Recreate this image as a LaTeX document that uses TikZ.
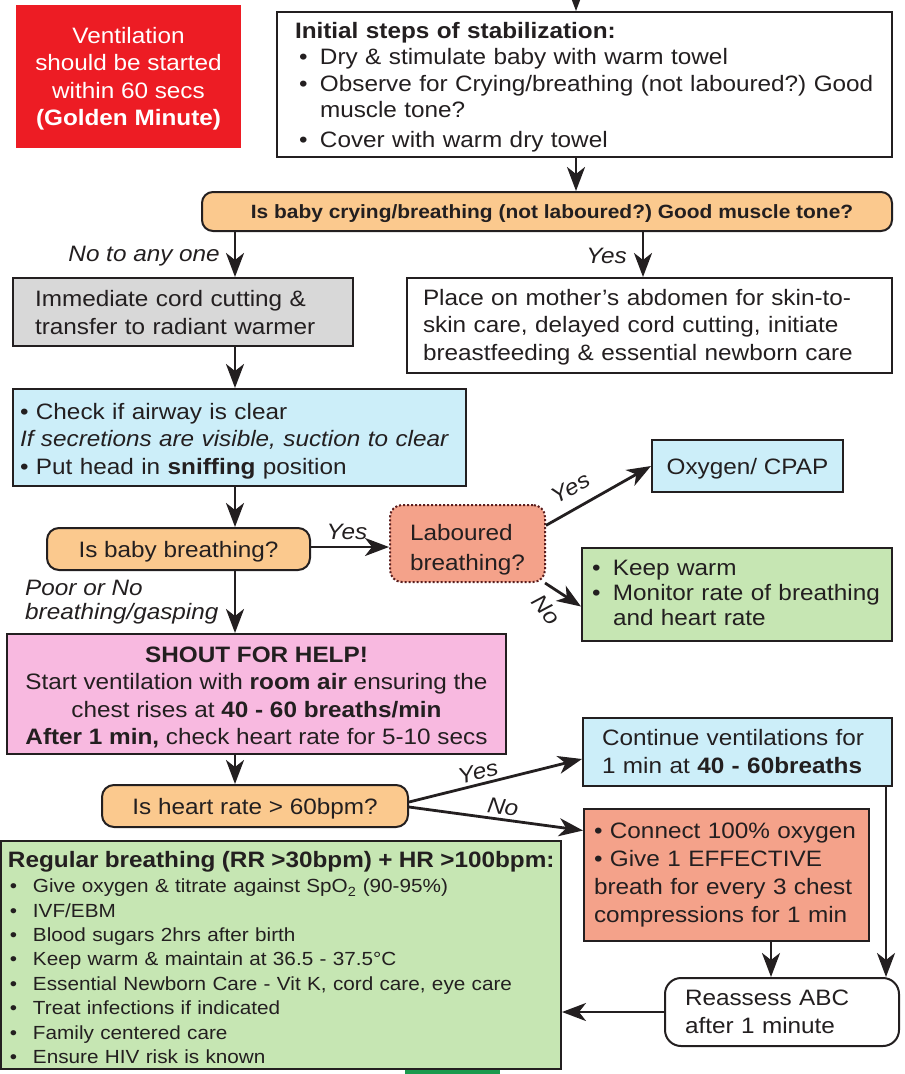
\documentclass[tikz,border=0pt]{standalone}
\usepackage{fontspec}
\setmainfont{Liberation Sans}[FakeStretch=1.09]
\usetikzlibrary{arrows.meta}
\frenchspacing
\definecolor{txt}{HTML}{231F20}
\definecolor{redbox}{HTML}{ED1C24}
\definecolor{orng}{HTML}{FBC98E}
\definecolor{greyb}{HTML}{D8D8D8}
\definecolor{lblue}{HTML}{CCEEF9}
\definecolor{salm}{HTML}{F4A28A}
\definecolor{pinkb}{HTML}{F8B9E0}
\definecolor{grn}{HTML}{C6E6B3}
\definecolor{dkgrn}{HTML}{1A9A4E}
\definecolor{dotred}{HTML}{5A1E1E}
\newcommand\fmain{\fontsize{22.3}{27.3}\selectfont}
\newcommand\fdecone{\fontsize{19.2}{24}\selectfont\bfseries}
\newcommand\fgb{\fontsize{19.0}{24.4}\selectfont}
\newcommand\dn[2]{\raisebox{-#1pt}[\height][\depth]{#2}}
\newcommand\tlines[2]{\dn{#1}{\begin{tabular}{@{}l@{}}#2\end{tabular}}}
\newcommand\clines[2]{\dn{#1}{\begin{tabular}{@{}c@{}}#2\end{tabular}}}
\newcommand\bi{\hspace*{4pt}\makebox[21pt][l]{\textbullet}}
\newcommand\bis{\makebox[21pt][l]{\textbullet}}
\newcommand\bgr{\makebox[25pt][l]{\hspace{2pt}\textbullet}}
\begin{document}
\begin{tikzpicture}[x=1pt,y=1pt,
  box/.style={draw=txt, line width=2pt, inner sep=0pt, text=txt, font=\fmain},
  dec/.style={box, fill=orng, rounded corners=11pt},
  arr/.style={line width=2.8pt, draw=txt, -{Stealth[length=24pt,width=18pt,inset=7pt]}},
  lbl/.style={font=\fmain\itshape, text=txt, inner sep=0pt}]
\useasboundingbox (0,0) rectangle (905,-1074);

% guide coordinates for vertical connectors
\coordinate (topin) at (576,0);
\coordinate (cL) at (235,0);
\coordinate (cY) at (643,0);
\coordinate (cR) at (886,0);
\coordinate (cS) at (771,0);

% red note
\node[box, draw=none, fill=redbox, text=white, minimum width=225pt, minimum height=143pt]
  (golden) at (128.5,-76.5) {\clines{2.5}{Ventilation\\should be started\\within 60 secs\\\textbf{(Golden Minute)}}};

% initial steps
\node[box, fill=white, minimum width=615pt, minimum height=145pt, text width=579pt, align=left]
  (init) at (584.5,-84.5) {\tlines{3}{\textbf{Initial steps of stabilization:}\\[-1.5pt]
  \bi Dry \& stimulate baby with warm towel\\
  \bi Observe for Crying/breathing (not laboured?) Good\\[-1.5pt]
  \hspace*{25pt}muscle tone?\\[3pt]
  \bi Cover with warm dry towel}};

% decision 1
\node[dec, minimum width=690pt, minimum height=39pt, font=\fdecone]
  (dec1) at (547,-211.5) {\dn{2}{\hspace*{10pt}Is baby crying/breathing (not laboured?) Good muscle tone?}};

% grey
\node[box, fill=greyb, minimum width=340pt, minimum height=68pt, text width=296pt, align=left]
  (grey) at (183,-312) {\tlines{3}{Immediate cord cutting \&\\transfer to radiant warmer}};

% white skin-to-skin
\node[box, fill=white, minimum width=485pt, minimum height=95pt, text width=453pt, align=left]
  (skin) at (649.5,-325.5) {\tlines{2}{Place on mother’s abdomen for skin-to-\\skin care, delayed cord cutting, initiate\\breastfeeding \& essential newborn care}};

% airway
\node[box, fill=lblue, minimum width=453pt, minimum height=97pt, text width=439pt, align=left]
  (airway) at (239.5,-437.5) {\tlines{4}{\textbullet{} Check if airway is clear\\
  \textit{If secretions are visible, suction to clear}\\
  \textbullet{} Put head in \textbf{sniffing} position}};

% decision 2
\node[dec, minimum width=263pt, minimum height=42pt, rounded corners=12pt]
  (dec2) at (178.5,-549) {\dn{3}{Is baby breathing?}};

% laboured
\node[box, draw=dotred, dotted, line width=2pt, fill=salm, rounded corners=12pt, minimum width=155pt, minimum height=77pt, font=\fontsize{22.3}{30}\selectfont]
  (lab) at (467.5,-543.5) {\tlines{6}{Laboured\\breathing?}};

% oxygen
\node[box, fill=lblue, minimum width=191pt, minimum height=52pt]
  (oxy) at (747.5,-466) {\dn{3}{Oxygen/ CPAP}};

% keep warm
\node[box, fill=grn, minimum width=310pt, minimum height=93pt, text width=290pt, align=left, font=\fontsize{22.3}{24.8}\selectfont]
  (gsm) at (737,-594.5) {\tlines{1}{\bis Keep warm\\\bis Monitor rate of breathing\\\hspace*{21pt}and heart rate}};

% shout
\node[box, fill=pinkb, minimum width=499pt, minimum height=120pt]
  (shout) at (256.5,-694) {\clines{4}{\textbf{SHOUT FOR HELP!}\\
  Start ventilation with \textbf{room air} ensuring the\\
  chest rises at \textbf{40 - 60 breaths/min}\\
  \textbf{After 1 min,} check heart rate for 5-10 secs}};

% decision 3
\node[dec, minimum width=306pt, minimum height=42pt, rounded corners=12pt]
  (dec3) at (255,-806) {\dn{3}{Is heart rate > 60bpm?}};

% continue ventilations
\node[box, fill=lblue, minimum width=309pt, minimum height=68pt, text width=271pt, align=left]
  (cont) at (737.5,-752) {\tlines{2}{Continue ventilations for\\1 min at \textbf{40 - 60breaths}}};

% connect oxygen
\node[box, fill=salm, minimum width=285pt, minimum height=132pt, text width=265pt, align=left, font=\fontsize{22.3}{28}\selectfont]
  (comp) at (726.5,-875) {\tlines{0}{\textbullet{} Connect 100\% oxygen\\\textbullet{} Give 1 EFFECTIVE\\breath for every 3 chest\\compressions for 1 min}};

% reassess
\node[box, fill=white, rounded corners=16pt, minimum width=234pt, minimum height=68pt, text width=194pt, align=left]
  (reass) at (782,-1012) {\tlines{2}{Reassess ABC\\after 1 minute}};

% regular breathing
\node[box, fill=grn, minimum width=560pt, minimum height=228pt, text width=546pt, align=left, font=\fgb]
  (gbig) at (281,-955) {\tlines{5.5}{{\fontsize{22.3}{26}\selectfont\bfseries Regular breathing (RR >30bpm) + HR >100bpm:}\\[1pt]
  \bgr Give oxygen \& titrate against SpO\textsubscript{2} (90-95\%)\\
  \bgr IVF/EBM\\
  \bgr Blood sugars 2hrs after birth\\
  \bgr Keep warm \& maintain at 36.5 - 37.5°C\\
  \bgr Essential Newborn Care - Vit K, cord care, eye care\\
  \bgr Treat infections if indicated\\
  \bgr Family centered care\\
  \bgr Ensure HIV risk is known}};

% partial green strip at bottom
\fill[dkgrn] (405,-1070) rectangle (500,-1076);

% connectors
\draw[arr] (topin) -- (topin |- init.north);
\draw[arr] (init.south -| topin) -- (dec1.north -| topin);
\draw[arr] (dec1.south -| cL) -- (grey.north -| cL);
\draw[arr] (dec1.south -| cY) -- (skin.north -| cY);
\draw[arr] (grey.south -| cL) -- (airway.north -| cL);
\draw[arr] (airway.south -| cL) -- (dec2.north -| cL);
\draw[arr] ([yshift=2pt]dec2.east) -- ([yshift=2pt]dec2.east -| lab.west);
\draw[arr] (lab.13) -- (oxy.west);
\draw[arr] (lab.-27) -- ([yshift=-12pt]gsm.west);
\draw[arr] (dec2.south -| cL) -- (shout.north -| cL);
\draw[arr] (shout.south -| cL) -- (dec3.north -| cL);
\draw[arr] ([yshift=4pt]dec3.east) -- ([yshift=-7pt]cont.west);
\draw[arr] ([yshift=-1pt]dec3.east) -- ([yshift=44.5pt]comp.west);
\draw[arr] (cont.south -| cR) -- (reass.north -| cR);
\draw[arr] (comp.south -| cS) -- (reass.north -| cS);
\draw[arr] (reass.west) -- (reass.west -| gbig.east);

% labels
\node[lbl, anchor=east] (lno1) at (220,-256) {No to any one};
\node[lbl, anchor=east] (lyes1) at (627,-256) {Yes};
\node[lbl] (lyes2) at (347,-532) {Yes};
\node[lbl, anchor=west, align=left, font=\fontsize{22.3}{24.5}\selectfont\itshape] (lpoor) at (25,-602) {Poor or No\\breathing/gasping};
\node[lbl, rotate=29] (lyes3) at (571,-488) {Yes};
\node[lbl, rotate=-50] (lno3) at (546,-610) {No};
\node[lbl, rotate=14] (lyes4) at (478,-772) {Yes};
\node[lbl, rotate=-8] (lno4) at (503,-807) {No};
\end{tikzpicture}
\end{document}
